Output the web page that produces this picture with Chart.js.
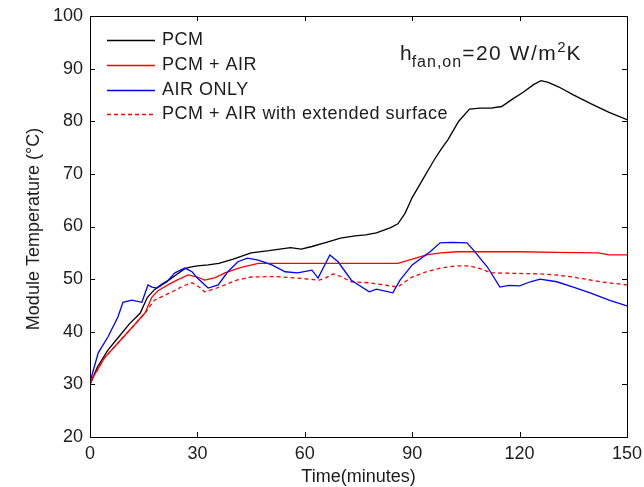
<!DOCTYPE html>
<html>
<head>
<meta charset="utf-8">
<script src="https://cdn.jsdelivr.net/npm/chart.js@4.4.1/dist/chart.umd.min.js"></script>
<style>
html, body { margin: 0; padding: 0; background: #fff; }
</style>
</head>
<body>
<canvas id="tempChart" width="644" height="487"></canvas>
<script>
// series data (time in minutes, temperature in °C)
var pcmTime = [0, 2, 5, 8, 11, 14, 16, 18, 20, 22, 24, 26.5, 28, 30, 33, 36, 40, 45, 50, 56, 59, 62, 66, 70, 74, 77, 80, 84, 86, 88, 90, 93, 96, 98, 100, 103, 106, 109, 112, 115, 118, 121, 124, 126, 128, 131, 135, 140, 145, 150];
var pcmTemp = [30, 33.2, 36.5, 39, 41.5, 43.5, 46.5, 48, 49, 49.8, 50.8, 52, 52.3, 52.5, 52.7, 53, 53.8, 55, 55.4, 56, 55.7, 56.2, 57, 57.8, 58.2, 58.4, 58.8, 59.8, 60.5, 62.5, 65.5, 69, 72.5, 74.6, 76.5, 80, 82.3, 82.5, 82.5, 82.8, 84.2, 85.5, 87, 87.7, 87.4, 86.5, 85, 83.3, 81.7, 80.3];

var pcmAirTime = [0, 1, 4, 8, 12, 15.4, 17.3, 19, 21.8, 24, 27.4, 30, 32, 35, 37.7, 42, 47, 55, 65, 75, 86, 90, 94, 98, 102.5, 110, 120, 130, 142, 145, 150];
var pcmAirTemp = [30, 31.5, 35, 38, 41, 43.6, 46.6, 47.8, 48.9, 49.7, 50.8, 50.4, 49.8, 50.3, 51.2, 52.2, 53, 53, 53, 53, 53, 53.8, 54.6, 55, 55.2, 55.2, 55.2, 55.1, 55, 54.6, 54.6];

var airTime = [0, 2.3, 5, 7.8, 9.2, 11.7, 14.5, 16.2, 17.3, 18.7, 21.5, 23.7, 26.5, 28.5, 30, 33, 35.8, 38.5, 41.3, 44, 47, 50.8, 54.5, 58, 62, 63.7, 67, 69.3, 73, 78, 80, 84.6, 86.6, 90, 95, 97.8, 101, 105.3, 107, 111, 114.5, 117, 120, 123, 125.7, 130.4, 135, 139.7, 145, 150];
var airTemp = [30.4, 36, 39, 42.8, 45.6, 46, 45.6, 48.9, 48.5, 48.3, 49.5, 51.2, 52.1, 51.4, 50.2, 48.3, 48.9, 51.4, 53.3, 54, 53.6, 52.7, 51.4, 51.2, 51.7, 50.2, 54.6, 53.3, 49.8, 47.6, 48.1, 47.4, 49.8, 52.7, 55.2, 56.9, 57, 56.9, 55.6, 52.3, 48.5, 48.8, 48.7, 49.5, 50, 49.5, 48.5, 47.4, 46, 44.9];

var extTime = [0, 1, 4, 8, 12, 15.4, 18, 23, 26, 28.5, 30.5, 32, 35, 37.7, 41, 45, 52, 58, 64, 66, 68, 70, 73, 78, 86, 88, 90, 94, 97.8, 102, 106, 109, 112, 118, 125.7, 130, 135, 142.5, 150];
var extTemp = [30, 31.5, 35, 38, 41, 43.6, 46, 47.6, 48.7, 49.3, 48.5, 47.6, 48.2, 48.9, 49.8, 50.4, 50.5, 50.2, 49.8, 50.3, 51, 50.5, 49.5, 49.3, 48.5, 49.5, 50.4, 51.4, 52.1, 52.5, 52.5, 52, 51.2, 51.1, 51, 50.8, 50.4, 49.5, 48.9];

var seriesNames = ['PCM', 'PCM + AIR', 'AIR ONLY', 'PCM + AIR with extended surface'];
var xTicks = [0, 30, 60, 90, 120, 150];
var yTicks = [20, 30, 40, 50, 60, 70, 80, 90, 100];

var FONT = "'Liberation Sans', Arial, Helvetica, sans-serif";
var TEXT = '#1c1c1c';

function pts(xs, ys) {
    return xs.map(function (x, i) { return { x: x, y: ys[i] }; });
}

// legend, annotation, inward ticks and box drawn MATLAB style
var matlabFrame = {
    id: 'matlabFrame',
    afterDatasetsDraw: function (chart) {
        var c = chart.ctx, a = chart.chartArea;
        var xs = chart.scales.x, ys = chart.scales.y;
        c.save();
        c.strokeStyle = '#000';
        c.lineWidth = 1;
        c.strokeRect(Math.round(a.left) + 0.5, Math.round(a.top) + 0.5, Math.round(a.right - a.left), Math.round(a.bottom - a.top));
        c.beginPath();
        xTicks.forEach(function (v) {
            var px = Math.round(xs.getPixelForValue(v)) + 0.5;
            c.moveTo(px, a.bottom); c.lineTo(px, a.bottom - 5);
            c.moveTo(px, a.top); c.lineTo(px, a.top + 5);
        });
        yTicks.forEach(function (v) {
            var py = Math.round(ys.getPixelForValue(v)) + 0.5;
            c.moveTo(a.left, py); c.lineTo(a.left + 5, py);
            c.moveTo(a.right, py); c.lineTo(a.right - 5, py);
        });
        c.stroke();

        // legend inside the plot
        var styles = chart.data.datasets;
        c.font = '18px ' + FONT;
        c.letterSpacing = '0.5px';
        c.textBaseline = 'middle';
        c.fillStyle = TEXT;
        seriesNames.forEach(function (name, i) {
            var ds = styles.find(function (d) { return d.label === name; });
            var y = Math.round(a.top + 24 + i * 24.8) + 0.5;
            c.beginPath();
            c.strokeStyle = ds.borderColor;
            c.lineWidth = 1.3;
            c.setLineDash(ds.borderDash || []);
            c.moveTo(a.left + 17, y);
            c.lineTo(a.left + 65, y);
            c.stroke();
            c.setLineDash([]);
            c.fillText(name, a.left + 72, y);
        });

        // h_fan,on = 20 W/m2K
        var x = 400, y = 53;
        c.textBaseline = 'alphabetic';
        c.letterSpacing = '0px';
        c.font = '21px ' + FONT;
        c.fillText('h', x, y + 7); x += c.measureText('h').width;
        c.font = '16px ' + FONT;
        c.letterSpacing = '1px';
        c.fillText('fan,on', x, y + 14); x += c.measureText('fan,on').width;
        c.font = '21px ' + FONT;
        c.letterSpacing = '1.5px';
        c.fillText('=20 W/m', x, y + 7); x += c.measureText('=20 W/m').width;
        c.letterSpacing = '0px';
        c.font = '15px ' + FONT;
        c.fillText('2', x, y - 1); x += c.measureText('2').width + 1;
        c.font = '21px ' + FONT;
        c.fillText('K', x, y + 7);

        // axis titles
        c.font = '18px ' + FONT;
        c.textAlign = 'center';
        c.textBaseline = 'middle';
        c.fillText('Time(minutes)', (a.left + a.right) / 2, 477);
        c.translate(34, 229);
        c.rotate(-Math.PI / 2);
        c.fillText('Module Temperature (°C)', 0, 0);
        c.restore();
    }
};

var ctx = document.getElementById('tempChart').getContext('2d');
var myChart = new Chart(ctx, {
    type: 'line',
    data: {
        datasets: [{
            label: seriesNames[0],
            data: pts(pcmTime, pcmTemp),
            borderColor: '#000000',
            order: 4
        }, {
            label: seriesNames[1],
            data: pts(pcmAirTime, pcmAirTemp),
            borderColor: '#ff0000',
            order: 3
        }, {
            label: seriesNames[2],
            data: pts(airTime, airTemp),
            borderColor: '#0000ff',
            order: 1
        }, {
            label: seriesNames[3],
            data: pts(extTime, extTemp),
            borderColor: '#ff0000',
            borderDash: [4, 3],
            order: 2
        }]
    },
    options: {
        responsive: false,
        animation: false,
        devicePixelRatio: 1,
        layout: { padding: { top: 16, right: 17, left: 0, bottom: 0 } },
        elements: {
            point: { radius: 0 },
            line: { borderWidth: 1.3, tension: 0, fill: false }
        },
        plugins: {
            legend: { display: false },
            tooltip: { enabled: false }
        },
        scales: {
            x: {
                type: 'linear',
                min: 0,
                max: 150,
                afterBuildTicks: function (s) { s.ticks = xTicks.map(function (v) { return { value: v }; }); },
                afterFit: function (s) { s.height = 50; s.paddingLeft = 0; s.paddingRight = 0; },
                ticks: { font: { size: 18, family: FONT }, color: TEXT, padding: 6, maxRotation: 0 },
                grid: { display: false, drawTicks: false },
                border: { display: false }
            },
            y: {
                min: 20,
                max: 100,
                afterBuildTicks: function (s) { s.ticks = yTicks.map(function (v) { return { value: v }; }); },
                afterFit: function (s) { s.width = 90; s.paddingTop = 0; s.paddingBottom = 0; },
                ticks: { font: { size: 18, family: FONT }, color: TEXT, padding: 7 },
                grid: { display: false, drawTicks: false },
                border: { display: false }
            }
        }
    },
    plugins: [matlabFrame]
});
</script>
</body>
</html>
